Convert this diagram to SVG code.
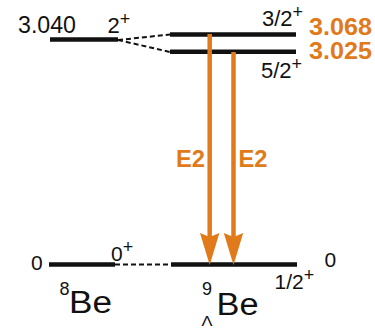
<svg xmlns="http://www.w3.org/2000/svg" width="375" height="328" viewBox="0 0 375 328">
<style>
text{font-family:"Liberation Sans",Arial,Helvetica,sans-serif;fill:#111}
.lvl{stroke:#111;stroke-width:4.5;fill:none}
.dash{stroke:#111;stroke-width:2;stroke-dasharray:5 3;fill:none}
.shaft{stroke:#E07A1A;stroke-width:4.5;fill:none}
.head{fill:#E07A1A}
.or{fill:#E07A1A;font-weight:bold}
</style>
<rect width="375" height="328" fill="#fff"/>
<g id="be8-excited">
<line class="lvl" x1="50" y1="39.5" x2="118" y2="39.5"/>
<text x="18" y="32.5" font-size="23" textLength="58" lengthAdjust="spacingAndGlyphs">3.040</text>
<text x="107.5" y="32.5" font-size="22">2<tspan font-size="18" dy="-8">+</tspan></text>
</g>
<g id="be8-ground">
<line class="lvl" x1="49" y1="264.5" x2="115" y2="264.5"/>
<text x="31" y="270" font-size="21">0</text>
<text x="111" y="260.5" font-size="21">0<tspan font-size="18" dy="-8">+</tspan></text>
<text x="59.5" y="295" font-size="18">8</text>
<text x="69" y="312.7" font-size="31" textLength="43" lengthAdjust="spacingAndGlyphs">Be</text>
</g>
<g id="lbe9-32">
<line class="lvl" x1="170" y1="34.5" x2="296" y2="34.5"/>
<text x="262" y="26" font-size="22">3/2<tspan font-size="18" dy="-8">+</tspan></text>
<text class="or" x="309" y="34.5" font-size="23" textLength="63" lengthAdjust="spacingAndGlyphs">3.068</text>
</g>
<g id="lbe9-52">
<line class="lvl" x1="170" y1="51.8" x2="296" y2="51.8"/>
<text x="261" y="77.7" font-size="22">5/2<tspan font-size="18" dy="-8">+</tspan></text>
<text class="or" x="309" y="59" font-size="23" textLength="63" lengthAdjust="spacingAndGlyphs">3.025</text>
</g>
<g id="lbe9-ground">
<line class="lvl" x1="171" y1="264.5" x2="297" y2="264.5"/>
<text x="324.5" y="266.7" font-size="21">0</text>
<text x="274.5" y="289.3" font-size="21">1/2<tspan font-size="18" dy="-8">+</tspan></text>
<text x="202" y="295" font-size="18">9</text>
<text x="216.5" y="315" font-size="31" textLength="42" lengthAdjust="spacingAndGlyphs">Be</text>
<text x="201.5" y="325.5" font-size="15" textLength="11" lengthAdjust="spacingAndGlyphs">Λ</text>
</g>
<g id="connectors">
<line class="dash" x1="118" y1="40" x2="170" y2="34.5"/>
<line class="dash" x1="118" y1="40" x2="170" y2="52"/>
<line class="dash" x1="115" y1="264.5" x2="171" y2="264.5"/>
<line class="shaft" x1="209.7" y1="34" x2="209.7" y2="238"/>
<polygon class="head" points="200,233 209.7,237 219.4,233 209.7,265"/>
<line class="shaft" x1="233.5" y1="52" x2="233.5" y2="238"/>
<polygon class="head" points="223.8,233 233.5,237 243.2,233 233.5,265"/>
<text class="or" x="176" y="166.7" font-size="24" textLength="29" lengthAdjust="spacingAndGlyphs">E2</text>
<text class="or" x="238.5" y="166.7" font-size="24" textLength="29" lengthAdjust="spacingAndGlyphs">E2</text>
</g>
</svg>
